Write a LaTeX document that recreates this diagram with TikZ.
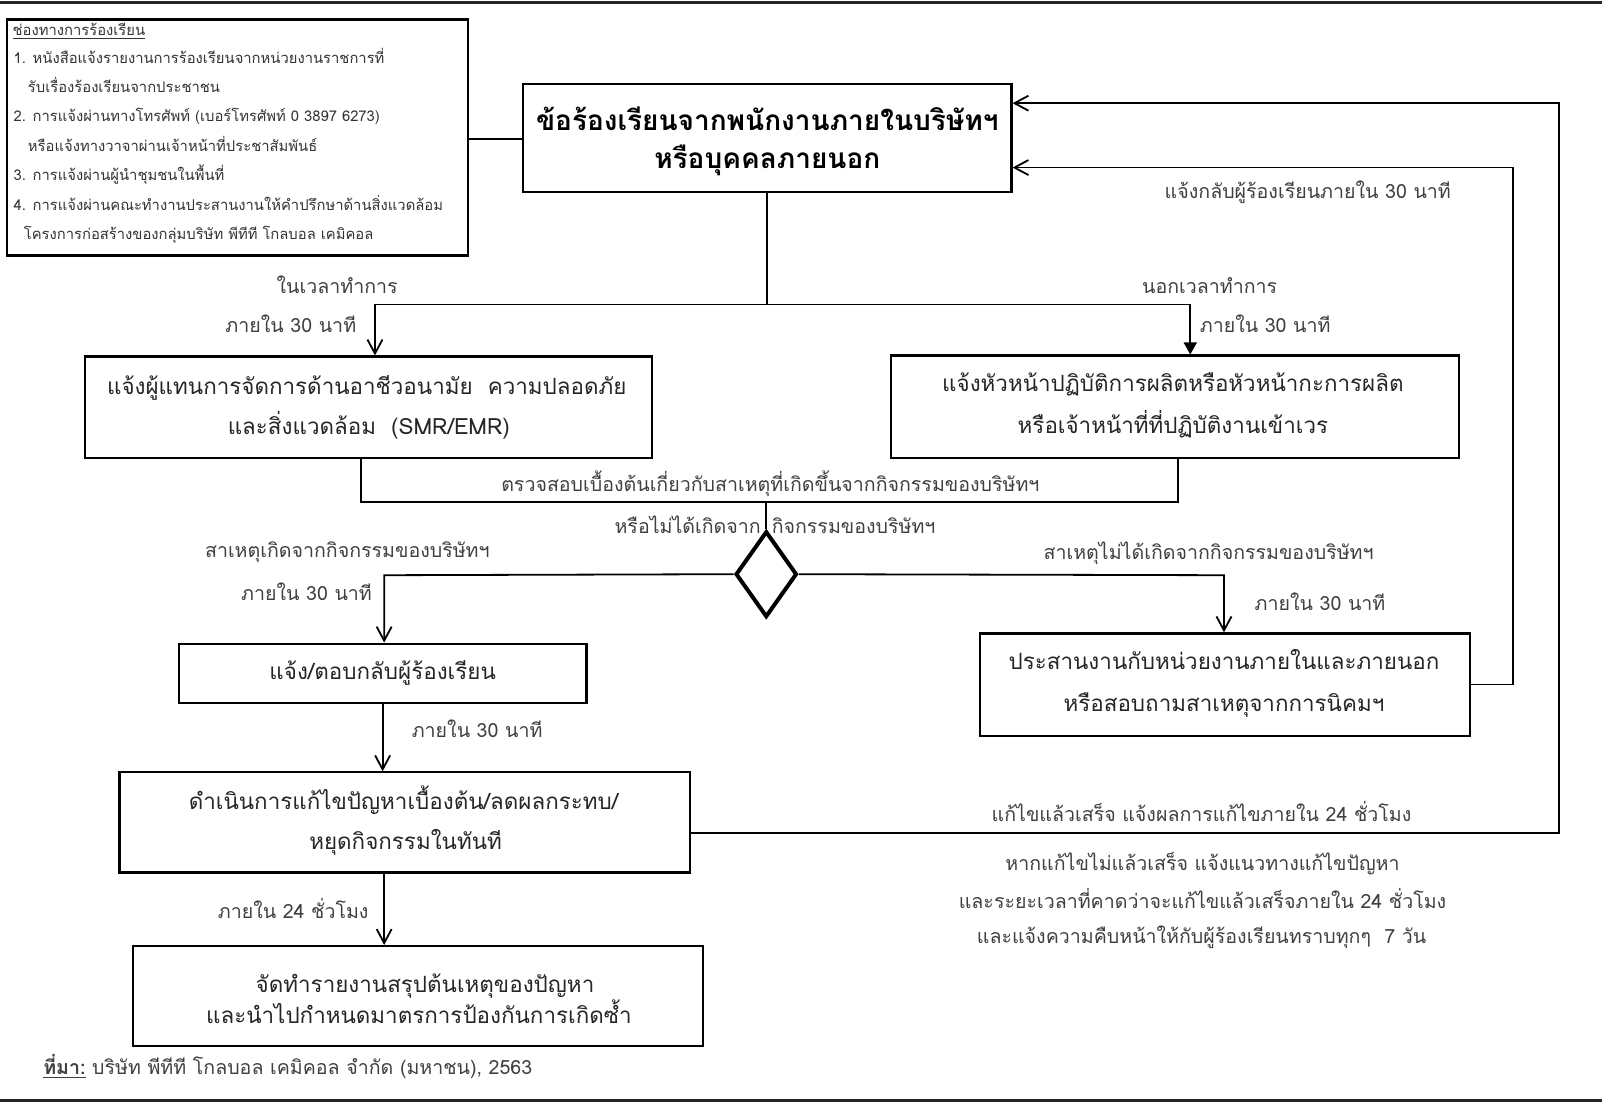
\documentclass[tikz,border=0pt]{standalone}
\usepackage{fontspec}
\setmainfont[Script=Thai]{Loma}
\usetikzlibrary{arrows.meta,shapes.geometric}
\begin{document}
\begin{tikzpicture}[x=0.511pt,y=-0.511pt,
  box/.style={draw,line width=1.1pt,inner sep=0pt},
  ln/.style={line width=0.9pt},
  barb/.style={-{Straight Barb[length=7pt,width=7.5pt,line width=0.9pt]}},
  tri/.style={-{Triangle[length=6pt,width=6.5pt]}},
  bt/.style={font=\fontsize{11.2}{13}\selectfont,text=black!85,inner sep=0pt,anchor=base},
  lb/.style={font=\fontsize{9.8}{12}\selectfont,text=black!75,inner sep=0pt,anchor=base},
  sm/.style={font=\fontsize{7.4}{9}\selectfont,text=black!80,inner sep=0pt,anchor=base west},
  mb/.style={font=\bfseries\fontsize{14}{16}\selectfont,inner sep=0pt,anchor=base}]
\useasboundingbox (0,0) rectangle (1568,1080);
% frame rules
\coordinate (r1) at (0,2); \coordinate (r2) at (1568,2);
\coordinate (r3) at (0,1077); \coordinate (r4) at (1568,1077);
\draw[line width=1.5pt,black!85] (r1) -- (r2);
\draw[line width=1.5pt,black!85] (r3) -- (r4);
% boxes
\node[box,minimum width=451*0.511pt,minimum height=231*0.511pt] (chan) at (232.5,134.5) {};
\node[box,minimum width=478*0.511pt,minimum height=106*0.511pt] (main) at (751,135) {};
\node[box,minimum width=555*0.511pt,minimum height=99*0.511pt] (L1) at (360.5,398.5) {};
\node[box,minimum width=556*0.511pt,minimum height=100*0.511pt] (R1) at (1150,398) {};
\node[draw,diamond,line width=2pt,inner sep=0pt,minimum width=60*0.511pt,minimum height=84*0.511pt] (dia) at (750,562) {};
\node[box,minimum width=399*0.511pt,minimum height=58*0.511pt] (L2) at (374.5,659) {};
\node[box,minimum width=480*0.511pt,minimum height=100*0.511pt] (R2) at (1199,670) {};
\node[box,minimum width=558*0.511pt,minimum height=98*0.511pt] (L3) at (396,805) {};
\node[box,minimum width=558*0.511pt,minimum height=98*0.511pt] (L4) at (409,975) {};
% channel box text
\node[sm] (c0) at (12,35) {\underline{ช่องทางการร้องเรียน}};
\node[sm] (c1) at (13,62) {1. หนังสือแจ้งรายงานการร้องเรียนจากหน่วยงานราชการที่};
\node[sm] (c2) at (27,91) {รับเรื่องร้องเรียนจากประชาชน};
\node[sm] (c3) at (13,119) {2. การแจ้งผ่านทางโทรศัพท์ (เบอร์โทรศัพท์ 0 3897 6273)};
\node[sm] (c4) at (27,148) {หรือแจ้งทางวาจาผ่านเจ้าหน้าที่ประชาสัมพันธ์};
\node[sm] (c5) at (13,177) {3. การแจ้งผ่านผู้นำชุมชนในพื้นที่};
\node[sm] (c6) at (13,206) {4. การแจ้งผ่านคณะทำงานประสานงานให้คำปรึกษาด้านสิ่งแวดล้อม};
\node[sm] (c7) at (23,234) {โครงการก่อสร้างของกลุ่มบริษัท พีทีที โกลบอล เคมิคอล};
% box texts
\node[mb] (t1) at (751,128) {ข้อร้องเรียนจากพนักงานภายในบริษัทฯ};
\node[mb] (t2) at (751,165) {หรือบุคคลภายนอก};
\node[bt] (t3) at (359,386) {แจ้งผู้แทนการจัดการด้านอาชีวอนามัย\ \ ความปลอดภัย};
\node[bt] (t4) at (361,425) {และสิ่งแวดล้อม\ \ (SMR/EMR)};
\node[bt] (t5) at (1148,383) {แจ้งหัวหน้าปฏิบัติการผลิตหรือหัวหน้ากะการผลิต};
\node[bt] (t6) at (1148,424) {หรือเจ้าหน้าที่ที่ปฏิบัติงานเข้าเวร};
\node[bt] (t7) at (374.5,665) {แจ้ง/ตอบกลับผู้ร้องเรียน};
\node[bt] (t8) at (1198,655) {ประสานงานกับหน่วยงานภายในและภายนอก};
\node[bt] (t9) at (1198,696) {หรือสอบถามสาเหตุจากการนิคมฯ};
\node[bt] (t10) at (395,792) {ดำเนินการแก้ไขปัญหาเบื้องต้น/ลดผลกระทบ/};
\node[bt] (t11) at (397,831) {หยุดกิจกรรมในทันที};
\node[bt] (t12) at (416,971) {จัดทำรายงานสรุปต้นเหตุของปัญหา};
\node[bt] (t13) at (410,1002) {และนำไปกำหนดมาตรการป้องกันการเกิดซ้ำ};
% labels
\node[lb] (l1) at (330,287) {ในเวลาทำการ};
\node[lb,anchor=base east] (l2) at (349,325) {ภายใน 30 นาที};
\node[lb] (l3) at (1184,287) {นอกเวลาทำการ};
\node[lb,anchor=base west] (l4) at (1174,325) {ภายใน 30 นาที};
\node[lb] (l5) at (1280,194) {แจ้งกลับผู้ร้องเรียนภายใน 30 นาที};
\node[lb] (l6) at (754,481) {ตรวจสอบเบื้องต้นเกี่ยวกับสาเหตุที่เกิดขึ้นจากกิจกรรมของบริษัทฯ};
\node[lb,anchor=base east] (l7) at (745,522) {หรือไม่ได้เกิดจาก};
\node[lb,anchor=base west] (l8) at (755,522) {กิจกรรมของบริษัทฯ};
\node[lb] (l9) at (340,546) {สาเหตุเกิดจากกิจกรรมของบริษัทฯ};
\node[lb] (l10) at (300,588) {ภายใน 30 นาที};
\node[lb] (l11) at (1183,548) {สาเหตุไม่ได้เกิดจากกิจกรรมของบริษัทฯ};
\node[lb] (l12) at (1292,598) {ภายใน 30 นาที};
\node[lb] (l13) at (467,722) {ภายใน 30 นาที};
\node[lb] (l14) at (287,899) {ภายใน 24 ชั่วโมง};
\node[lb] (l15) at (1176,804) {แก้ไขแล้วเสร็จ แจ้งผลการแก้ไขภายใน 24 ชั่วโมง};
\node[lb] (l16) at (1177,852) {หากแก้ไขไม่แล้วเสร็จ แจ้งแนวทางแก้ไขปัญหา};
\node[lb] (l17) at (1177,889) {และระยะเวลาที่คาดว่าจะแก้ไขแล้วเสร็จภายใน 24 ชั่วโมง};
\node[lb] (l18) at (1176,923) {และแจ้งความคืบหน้าให้กับผู้ร้องเรียนทราบทุกๆ\ \ 7 วัน};
\node[lb,anchor=base west] (src) at (42,1052) {\underline{\textbf{ที่มา:}} บริษัท พีทีที โกลบอล เคมิคอล จำกัด (มหาชน), 2563};
% connectors
\coordinate (q) at (485,136);
\draw[ln] (chan.east |- q) -- (main.west |- q);
\coordinate (j1) at (751,298); \coordinate (jL) at (367,298); \coordinate (jR) at (1165,298);
\draw[ln] (main.south) -- (j1);
\draw[ln] (jL) -- (jR);
\draw[ln,barb] (jL) -- (jL |- L1.north);
\draw[ln,tri] (jR) -- (jR |- R1.north);
\coordinate (k0) at (750,491); \coordinate (k1) at (353,491); \coordinate (k2) at (1153,491);
\draw[ln] (k1 |- L1.south) -- (k1) -- (k2) -- (k2 |- R1.south);
\draw[ln] (k0) -- (dia.north);
\coordinate (m1) at (376,563); \coordinate (m2) at (1198,563);
\draw[ln,barb] (dia.west) -- (m1) -- (m1 |- L2.north);
\draw[ln,barb] (dia.east) -- (m2) -- (m2 |- R2.north);
\draw[ln,barb] (L2.south) -- (L2.south |- L3.north);
\coordinate (n1) at (376,900);
\draw[ln,barb] (L3.south -| n1) -- (L4.north -| n1);
\coordinate (o1) at (1526,815); \coordinate (o2) at (1526,101);
\draw[ln,barb] (L3.east |- o1) -- (o1) -- (o2) -- (o2 -| main.east);
\coordinate (p1) at (1481,670); \coordinate (p2) at (1481,164);
\draw[ln,barb] (R2.east |- p1) -- (p1) -- (p2) -- (p2 -| main.east);
\end{tikzpicture}
\end{document}
